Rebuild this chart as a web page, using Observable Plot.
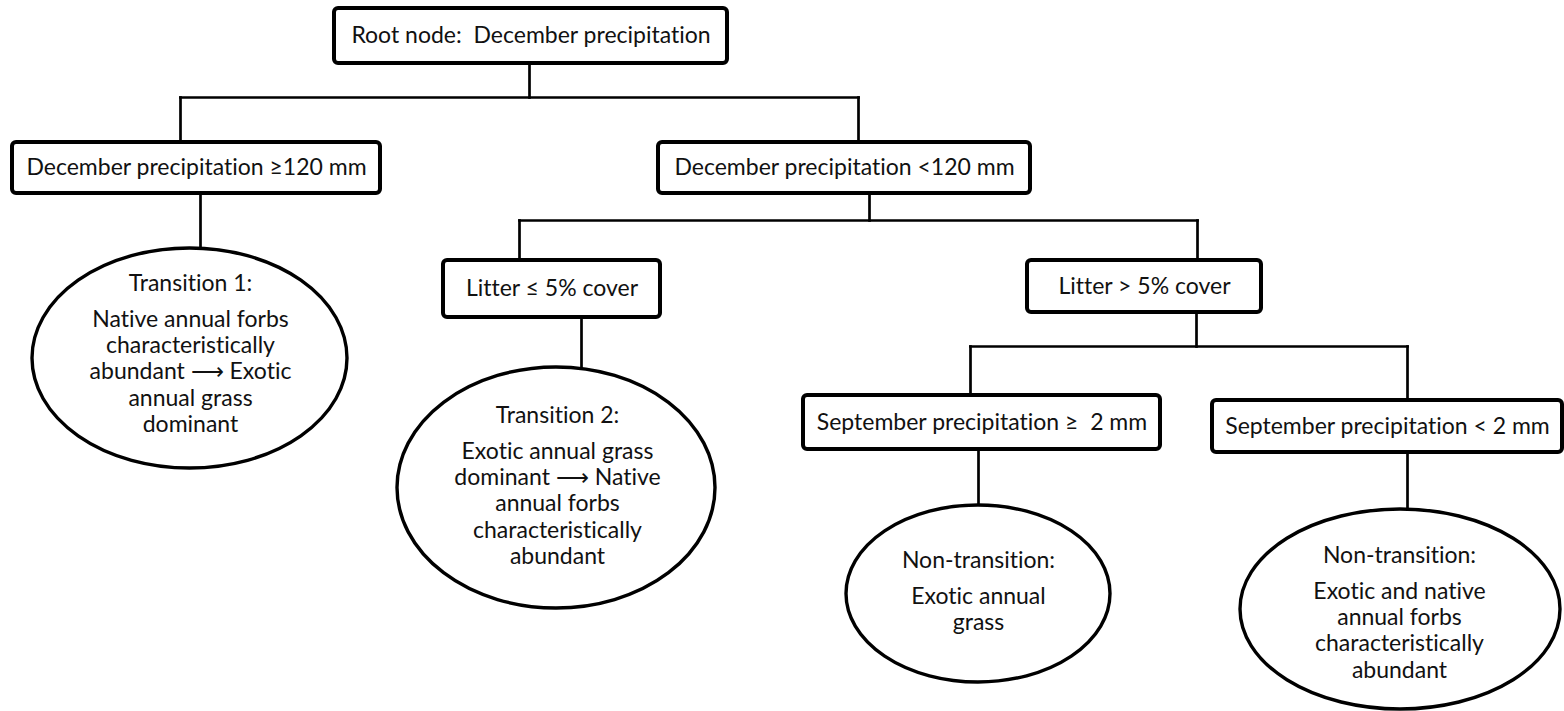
<!DOCTYPE html>
<html>
<head>
<meta charset="utf-8">
<script src="https://cdn.jsdelivr.net/npm/d3@7"></script>
<script src="https://cdn.jsdelivr.net/npm/@observablehq/plot@0.6"></script>
<style>
  html, body { margin: 0; padding: 0; background: #fff; }
  #chart svg { display: block; }
  #chart svg text { font-variant-ligatures: none; font-feature-settings: "liga" 0, "clig" 0; }
</style>
</head>
<body>
<div id="chart"></div>
<script>
// ---------- DATA: decision tree content ----------
const decisionIds = ["root", "decGe", "decLt", "litLe", "litGt", "sepGe", "sepLt"];
const decisionLabels = [
  "Root node:\u00A0 December precipitation",
  "December precipitation \u2265120 mm",
  "December precipitation <120 mm",
  "Litter \u2264 5% cover",
  "Litter > 5% cover",
  "September precipitation \u2265\u00A0 2 mm",
  "September precipitation < 2 mm"
];
const decisionParents = [null, "root", "root", "decLt", "decLt", "litGt", "litGt"];

const outcomeIds = ["t1", "t2", "n1", "n2"];
const outcomeParents = ["decGe", "litLe", "sepGe", "sepLt"];
const outcomeTitles = ["Transition 1:", "Transition 2:", "Non-transition:", "Non-transition:"];
const outcomeLines = [
  ["Native annual forbs", "characteristically", "abundant \u27F6 Exotic", "annual grass", "dominant"],
  ["Exotic annual grass", "dominant \u27F6 Native", "annual forbs", "characteristically", "abundant"],
  ["Exotic annual", "grass"],
  ["Exotic and native", "annual forbs", "characteristically", "abundant"]
];

// ---------- LAYOUT (diagram geometry, canvas units) ----------
const boxLayout = {
  root:  {x1: 334,  x2: 727,  y1: 8,   y2: 63,  inX: null, outX: 529,  busY: 97},
  decGe: {x1: 12,   x2: 380,  y1: 142, y2: 193, inX: 180,  outX: 200},
  decLt: {x1: 658,  x2: 1030, y1: 142, y2: 193, inX: 858,  outX: 869,  busY: 220},
  litLe: {x1: 443,  x2: 660,  y1: 260, y2: 317, inX: 519,  outX: 581},
  litGt: {x1: 1027, x2: 1261, y1: 260, y2: 312, inX: 1197, outX: 1196, busY: 346},
  sepGe: {x1: 803,  x2: 1160, y1: 395, y2: 449, inX: 970,  outX: 978},
  sepLt: {x1: 1212, x2: 1562, y1: 400, y2: 452, inX: 1407, outX: 1407}
};
const ellipseLayout = {
  t1: {cx: 189.5, cy: 358,   rx: 157.5, ry: 110,   tx: 190,  titleY: 283},
  t2: {cx: 556,   cy: 487.5, rx: 159,   ry: 120.5, tx: 557,  titleY: 415},
  n1: {cx: 978,   cy: 593.5, rx: 132,   ry: 88.5,  tx: 978,  titleY: 560},
  n2: {cx: 1400,  cy: 609,   rx: 160,   ry: 100,   tx: 1399, titleY: 555}
};
const titleGap = 36, lineStep = 26.3;

// ---------- build tables ----------
const boxes = decisionIds.map((id, i) => ({id, label: decisionLabels[i], parent: decisionParents[i], ...boxLayout[id]}));
const ellipses = outcomeIds.map((id, i) => ({id, title: outcomeTitles[i], lines: outcomeLines[i], parent: outcomeParents[i], ...ellipseLayout[id]}));
const bodyLines = ellipses.flatMap(e => e.lines.map((t, j) => ({text: t, x: e.tx, y: e.titleY + titleGap + j * lineStep})));

const segments = [];
for (const p of boxes) {
  const pcy = (p.y1 + p.y2) / 2;
  const kidBoxes = boxes.filter(b => b.parent === p.id);
  const kidEllipses = ellipses.filter(e => e.parent === p.id);
  if (kidBoxes.length >= 2) {
    segments.push({x1: p.outX, y1: pcy, x2: p.outX, y2: p.busY});
    const xs = kidBoxes.map(k => k.inX);
    segments.push({x1: d3.min(xs), y1: p.busY, x2: d3.max(xs), y2: p.busY});
    for (const k of kidBoxes) segments.push({x1: k.inX, y1: p.busY, x2: k.inX, y2: (k.y1 + k.y2) / 2});
  }
  for (const e of kidEllipses) segments.push({x1: p.outX, y1: pcy, x2: p.outX, y2: e.cy});
}

// custom mark: ellipses positioned through Plot's scales
function ellipseMark(index, scales) {
  const g = d3.create("svg:g");
  g.selectAll("ellipse").data(ellipses).join("ellipse")
    .attr("cx", d => scales.x(d.cx))
    .attr("cy", d => scales.y(d.cy))
    .attr("rx", d => Math.abs(scales.x(d.cx + d.rx) - scales.x(d.cx)))
    .attr("ry", d => Math.abs(scales.y(d.cy + d.ry) - scales.y(d.cy)))
    .attr("fill", "#fff")
    .attr("stroke", "#000")
    .attr("stroke-width", 3.4);
  return g.node();
}

const FONT = "Lato, 'Open Sans', sans-serif";
const FS = 23;

const plot = Plot.plot({
  width: 1564,
  height: 711,
  margin: 0,
  x: {domain: [0, 1564], axis: null},
  y: {domain: [0, 711], reverse: true, axis: null},
  style: {background: "#fff", fontFamily: FONT},
  marks: [
    Plot.link(segments, {x1: "x1", y1: "y1", x2: "x2", y2: "y2", stroke: "#000", strokeWidth: 2.7, strokeLinecap: "square"}),
    Plot.rect(boxes, {x1: "x1", x2: "x2", y1: "y1", y2: "y2", fill: "#fff", stroke: "#000", strokeWidth: 4, rx: 4}),
    ellipseMark,
    Plot.text(boxes, {x: d => (d.x1 + d.x2) / 2, y: d => (d.y1 + d.y2) / 2, text: "label", fontSize: FS, fill: "#111", fontFamily: FONT}),
    Plot.text(ellipses, {x: "tx", y: "titleY", text: "title", fontSize: FS, fill: "#111", fontFamily: FONT}),
    Plot.text(bodyLines, {x: "x", y: "y", text: "text", fontSize: FS, fill: "#111", fontFamily: FONT})
  ]
});
document.getElementById("chart").append(plot);
</script>
</body>
</html>
